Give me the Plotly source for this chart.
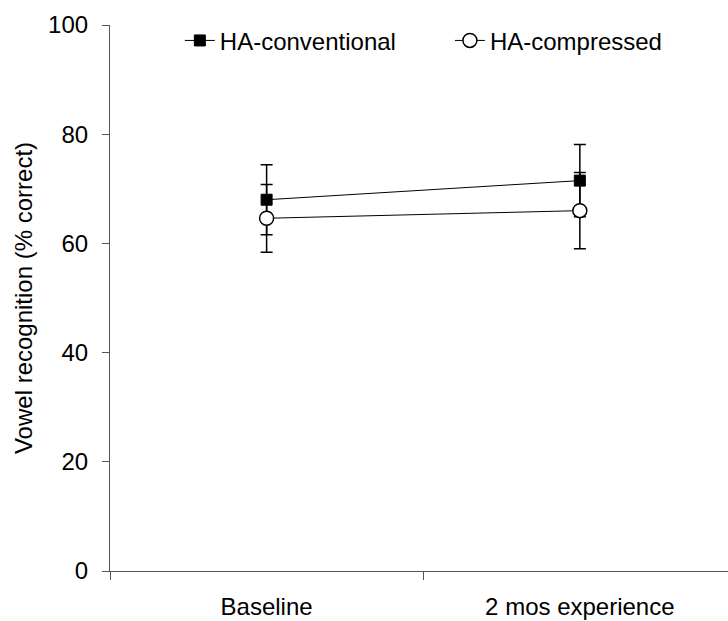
import plotly.graph_objects as go

categories = ["Baseline", "2 mos experience"]
conv_mean = [68.0, 71.5]
conv_err = [6.4, 6.6]
comp_mean = [64.6, 66.0]
comp_err = [6.2, 7.0]
y_ticks = [0, 20, 40, 60, 80, 100]

xpos = list(range(len(categories)))
font = "Arial, Liberation Sans, sans-serif"

fig = go.Figure()
fig.add_trace(go.Scatter(
    x=xpos, y=conv_mean, name="HA-conventional", mode="lines+markers",
    line=dict(color="black", width=1), legend="legend",
    marker=dict(symbol="square", size=11, color="black", line=dict(color="black", width=1)),
    error_y=dict(type="data", array=conv_err, visible=True, color="black", thickness=1.5, width=6),
))
fig.add_trace(go.Scatter(
    x=xpos, y=comp_mean, name="HA-compressed", mode="lines+markers",
    line=dict(color="black", width=1), legend="legend2",
    marker=dict(symbol="circle", size=14, color="white", line=dict(color="black", width=1.5)),
    error_y=dict(type="data", array=comp_err, visible=True, color="black", thickness=1.5, width=6),
))

leg_common = dict(orientation="h", y=0.971, xanchor="left", yanchor="middle",
                  font=dict(size=24), bgcolor="rgba(0,0,0,0)")

fig.update_layout(
    width=728, height=621,
    margin=dict(l=110, r=0, t=25, b=50),
    paper_bgcolor="white", plot_bgcolor="white",
    font=dict(family=font, size=24, color="black"),
    showlegend=True,
    legend=dict(x=0.113, **leg_common),
    legend2=dict(x=0.55, **leg_common),
    xaxis=dict(
        range=[-0.5, 1.473], showgrid=False, zeroline=False,
        showline=True, linecolor="#555555", linewidth=1.2,
        tickmode="array", tickvals=xpos, ticktext=categories, ticks="",
        ticklabelstandoff=14,
        minor=dict(tickmode="array", tickvals=[-0.5, 0.5, 1.5], ticks="outside",
                   ticklen=8, tickcolor="#555555", tickwidth=1.2, showgrid=False),
    ),
    yaxis=dict(
        range=[0, 100], showgrid=False, zeroline=False,
        showline=True, linecolor="#555555", linewidth=1.2,
        tickmode="array", tickvals=y_ticks, ticks="outside", ticklen=7,
        tickcolor="#555555", tickwidth=1.2, ticklabelstandoff=9,
        title=dict(text="Vowel recognition (% correct)", font=dict(size=24), standoff=8),
    ),
)

fig.write_html("out.html")
